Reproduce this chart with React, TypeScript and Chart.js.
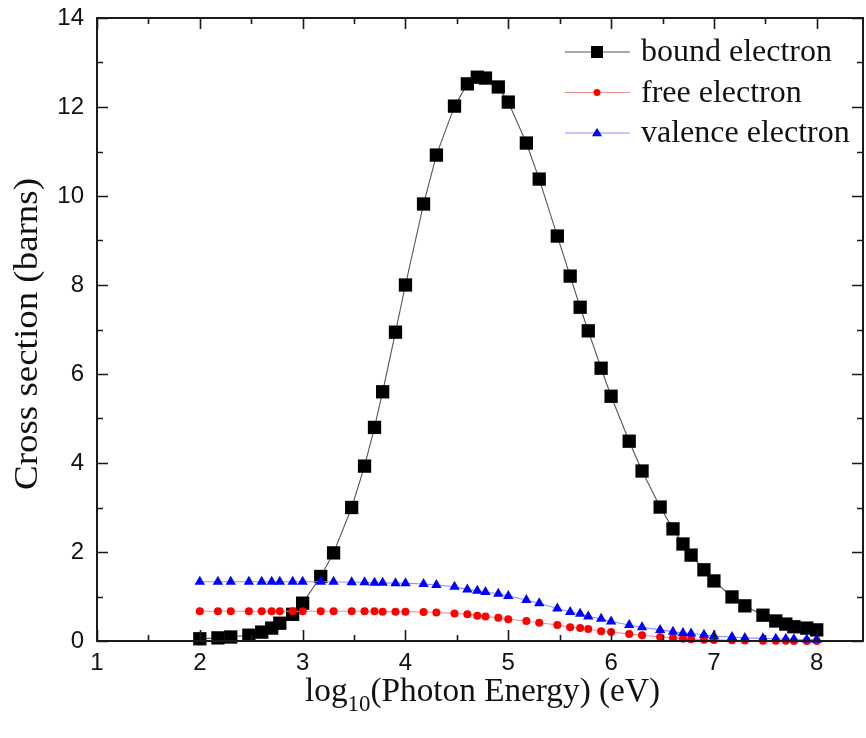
import React, { useEffect, useRef } from 'react';
import { Chart, registerables } from 'chart.js';

Chart.register(...registerables);

// log10(Photon Energy) values (eV)
const logEnergy = [
  2, 2.176, 2.301, 2.477, 2.602, 2.699, 2.778, 2.903,
  3, 3.176, 3.301, 3.477, 3.602, 3.699, 3.778, 3.903,
  4, 4.176, 4.301, 4.477, 4.602, 4.699, 4.778, 4.903,
  5, 5.176, 5.301, 5.477, 5.602, 5.699, 5.778, 5.903,
  6, 6.176, 6.301, 6.477, 6.602, 6.699, 6.778, 6.903,
  7, 7.176, 7.301, 7.477, 7.602, 7.699, 7.778, 7.903,
  8,
];

const boundElectron = [
  0.05, 0.07, 0.09, 0.13, 0.2, 0.29, 0.4, 0.6,
  0.85, 1.45, 1.98, 3.0, 3.93, 4.8, 5.6, 6.94,
  8.0, 9.82, 10.92, 12.02, 12.52, 12.67, 12.65, 12.45,
  12.11, 11.19, 10.38, 9.1, 8.2, 7.5, 6.97, 6.13,
  5.5, 4.49, 3.82, 3.01, 2.52, 2.18, 1.93, 1.6,
  1.35, 0.99, 0.79, 0.58, 0.45, 0.38, 0.32, 0.29,
  0.25,
];

const freeElectron = [
  0.67, 0.67, 0.67, 0.67, 0.67, 0.67, 0.67, 0.67,
  0.67, 0.67, 0.67, 0.67, 0.67, 0.67, 0.66, 0.66,
  0.66, 0.65, 0.64, 0.62, 0.6, 0.57, 0.55, 0.52,
  0.49, 0.45, 0.41, 0.36, 0.31, 0.29, 0.27, 0.22,
  0.2, 0.16, 0.13, 0.09, 0.07, 0.05, 0.04, 0.03,
  0.025, 0.015, 0.01, 0.006, 0.004, 0.003, 0.002, 0.002,
  0.001,
];

const valenceElectron = [
  1.33, 1.33, 1.33, 1.33, 1.33, 1.33, 1.33, 1.33,
  1.33, 1.33, 1.33, 1.32, 1.32, 1.31, 1.31, 1.3,
  1.3, 1.28, 1.26, 1.22, 1.16, 1.13, 1.1, 1.06,
  1.01, 0.92, 0.85, 0.73, 0.65, 0.61, 0.55, 0.5,
  0.44, 0.36, 0.31, 0.25, 0.21, 0.18, 0.17, 0.14,
  0.11, 0.09, 0.07, 0.06, 0.05, 0.045, 0.04, 0.035,
  0.03,
];

const seriesLabels = ['bound electron', 'free electron', 'valence electron'];

const X_MIN = 1;
const X_MAX = 8.45;
const xMajorTicks = [1, 2, 3, 4, 5, 6, 7, 8];
const xMinorTicks = [1.5, 2.5, 3.5, 4.5, 5.5, 6.5, 7.5];
const yMajorTicks = [0, 2, 4, 6, 8, 10, 12, 14];
const yMinorTicks = [1, 3, 5, 7, 9, 11, 13];

const xTitleMain = 'log';
const xTitleSub = '10';
const xTitleRest = '(Photon Energy) (eV)';
const yTitle = 'Cross section (barns)';

const SERIF = '"Liberation Serif", "Times New Roman", serif';
const SANS = '"Liberation Sans", Arial, sans-serif';

function drawMarker(ctx: CanvasRenderingContext2D, style: string, x: number, y: number, s: number, color: string) {
  ctx.fillStyle = color;
  ctx.beginPath();
  if (style === 'rect') {
    ctx.rect(x - s / 2, y - s / 2, s, s);
  } else if (style === 'circle') {
    ctx.arc(x, y, s / 2, 0, Math.PI * 2);
  } else {
    const h = s * 0.866;
    ctx.moveTo(x, y - h * 0.62);
    ctx.lineTo(x + s / 2, y + h * 0.38);
    ctx.lineTo(x - s / 2, y + h * 0.38);
    ctx.closePath();
  }
  ctx.fill();
}

const decorPlugin = {
  id: 'decor',
  afterDraw(chart: any) {
    const { ctx, chartArea: a, scales } = chart;
    const xs = scales.x;
    const ys = scales.y;
    ctx.save();
    // frame
    ctx.strokeStyle = '#1a1a1a';
    ctx.lineWidth = 2;
    ctx.strokeRect(a.left, a.top, a.right - a.left, a.bottom - a.top);
    // inward ticks on all four sides
    ctx.lineWidth = 1.6;
    ctx.beginPath();
    const xt = (vals: number[], len: number) => {
      for (const v of vals) {
        const px = Math.round(xs.getPixelForValue(v)) + 0.5;
        ctx.moveTo(px, a.bottom);
        ctx.lineTo(px, a.bottom - len);
        ctx.moveTo(px, a.top);
        ctx.lineTo(px, a.top + len);
      }
    };
    const yt = (vals: number[], len: number) => {
      for (const v of vals) {
        const py = Math.round(ys.getPixelForValue(v)) + 0.5;
        ctx.moveTo(a.left, py);
        ctx.lineTo(a.left + len, py);
        ctx.moveTo(a.right, py);
        ctx.lineTo(a.right - len, py);
      }
    };
    xt(xMajorTicks, 11);
    xt(xMinorTicks, 6);
    yt(yMajorTicks, 11);
    yt(yMinorTicks, 6);
    ctx.stroke();

    // x title with subscript
    ctx.fillStyle = '#111';
    ctx.textBaseline = 'alphabetic';
    ctx.textAlign = 'left';
    const mainFont = '32px ' + SERIF;
    const subFont = '22px ' + SERIF;
    ctx.font = mainFont;
    const w1 = ctx.measureText(xTitleMain).width;
    const w3 = ctx.measureText(xTitleRest).width;
    ctx.font = subFont;
    const w2 = ctx.measureText(xTitleSub).width;
    const total = w1 + w2 + w3;
    const sx = 355 / total;
    ctx.save();
    ctx.translate(305, 701);
    ctx.scale(sx, 1.06);
    ctx.font = mainFont;
    ctx.fillText(xTitleMain, 0, 0);
    ctx.font = subFont;
    ctx.fillText(xTitleSub, w1, 9);
    ctx.font = mainFont;
    ctx.fillText(xTitleRest, w1 + w2, 0);
    ctx.restore();

    // y title
    ctx.save();
    ctx.font = '33px ' + SERIF;
    const wy = ctx.measureText(yTitle).width;
    ctx.translate(37, 334);
    ctx.rotate(-Math.PI / 2);
    ctx.scale(312 / wy, 1);
    ctx.textAlign = 'center';
    ctx.textBaseline = 'alphabetic';
    ctx.fillText(yTitle, 0, 0);
    ctx.restore();

    // legend
    const ds = chart.data.datasets;
    ctx.font = '31px ' + SERIF;
    ctx.textBaseline = 'middle';
    ctx.textAlign = 'left';
    const lsx = 191 / ctx.measureText(ds[0].label).width;
    for (let i = 0; i < ds.length; i++) {
      const d = ds[i];
      const ly = 52 + i * 40.5;
      ctx.strokeStyle = d.borderColor;
      ctx.lineWidth = 1.2;
      ctx.beginPath();
      ctx.moveTo(565, ly);
      ctx.lineTo(630, ly);
      ctx.stroke();
      drawMarker(ctx, d.pointStyle, 597, ly, d.legendSize, d.pointBackgroundColor);
      ctx.fillStyle = '#111';
      ctx.save();
      ctx.translate(641, ly + 1);
      ctx.scale(lsx, 1);
      ctx.fillText(d.label, 0, 0);
      ctx.restore();
    }
    ctx.restore();
  },
};

function toPoints(ys: number[]) {
  return logEnergy.map((x, i) => ({ x, y: ys[i] }));
}

export default function App() {
  const ref = useRef<HTMLCanvasElement | null>(null);
  useEffect(() => {
    if (!ref.current) return;
    const chart = new Chart(ref.current, {
      type: 'line',
      data: {
        datasets: [
          {
            label: seriesLabels[0],
            data: toPoints(boundElectron),
            borderColor: '#555555',
            borderWidth: 1.1,
            pointStyle: 'rect',
            pointRadius: 9.4,
            pointBackgroundColor: '#000000',
            pointBorderWidth: 0,
            pointBorderColor: '#000000',
            order: 3,
            clip: false,
            legendSize: 12,
          } as any,
          {
            label: seriesLabels[1],
            data: toPoints(freeElectron),
            borderColor: '#f09090',
            borderWidth: 1.1,
            pointStyle: 'circle',
            pointRadius: 4,
            pointBackgroundColor: '#ff0000',
            pointBorderWidth: 0,
            pointBorderColor: '#ff0000',
            order: 2,
            clip: false,
            legendSize: 7,
          } as any,
          {
            label: seriesLabels[2],
            data: toPoints(valenceElectron),
            borderColor: '#8f8fff',
            borderWidth: 1.1,
            pointStyle: 'triangle',
            pointRadius: 6,
            pointBackgroundColor: '#0000ff',
            pointBorderWidth: 0,
            pointBorderColor: '#0000ff',
            order: 1,
            clip: false,
            legendSize: 10,
          } as any,
        ],
      },
      options: {
        responsive: false,
        animation: false,
        layout: { autoPadding: false, padding: { top: 18, right: 3, left: 0, bottom: 0 } },
        plugins: { legend: { display: false }, tooltip: { enabled: false } },
        elements: { line: { tension: 0 } },
        scales: {
          x: {
            type: 'linear',
            min: X_MIN,
            max: X_MAX,
            afterBuildTicks: (s: any) => {
              s.ticks = [...xMajorTicks, X_MAX].map((v) => ({ value: v }));
            },
            afterFit: (s: any) => {
              s.height = 97;
              s.paddingLeft = 0;
              s.paddingRight = 0;
            },
            grid: { display: false, drawTicks: false },
            border: { display: false },
            ticks: {
              padding: 8,
              color: '#111',
              font: { family: SANS, size: 24 },
              maxRotation: 0,
              autoSkip: false,
              callback: (v: any) => (xMajorTicks.includes(Number(v)) ? String(v) : ''),
            },
          },
          y: {
            type: 'linear',
            min: 0,
            max: 14,
            afterBuildTicks: (s: any) => {
              s.ticks = yMajorTicks.map((v) => ({ value: v }));
            },
            afterFit: (s: any) => {
              s.width = 97;
              s.paddingTop = 0;
              s.paddingBottom = 0;
            },
            grid: { display: false, drawTicks: false },
            border: { display: false },
            ticks: {
              padding: 13,
              color: '#111',
              font: { family: SANS, size: 24 },
              callback: (v: any) => String(v),
            },
          },
        },
      },
      plugins: [decorPlugin],
    });
    return () => chart.destroy();
  }, []);
  return (
    <div style={{ position: 'fixed', left: 0, top: 0, width: 866, height: 738, background: '#fff' }}>
      <canvas ref={ref} width={866} height={738} style={{ display: 'block' }} />
    </div>
  );
}
